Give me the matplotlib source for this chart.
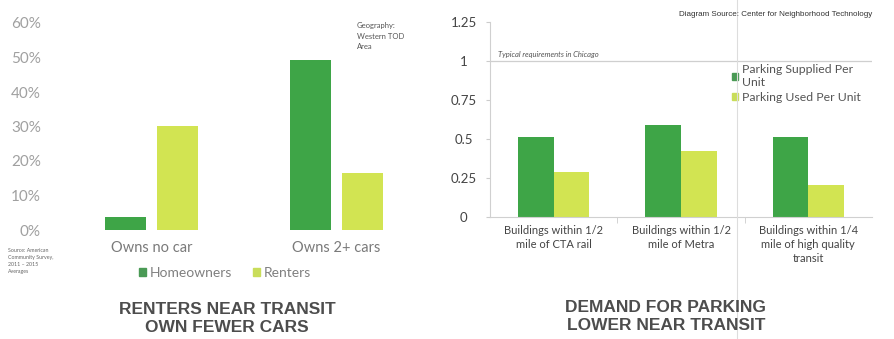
import numpy as np
import matplotlib.pyplot as plt
from matplotlib.lines import Line2D
from matplotlib.patches import Patch

plt.rcParams['font.family'] = ['Lato', 'DejaVu Sans']

# left chart data (share of households, %)
car_cats = ['Owns no car', 'Owns 2+ cars']
homeowners = [3.8, 49.3]
renters = [30.1, 16.5]
pct_ticks = [0, 10, 20, 30, 40, 50, 60]

# right chart data (parking spaces per unit)
bldg_cats = ['Buildings within 1/2\nmile of CTA rail',
             'Buildings within 1/2\nmile of Metra',
             'Buildings within 1/4\nmile of high quality\ntransit']
supplied = [0.51, 0.59, 0.51]
used = [0.29, 0.42, 0.205]
park_ticks = [0, 0.25, 0.5, 0.75, 1, 1.25]
park_labels = ['0', '0.25', '0.5', '0.75', '1', '1.25']

dark = '#3ea547'
light = '#d2e452'

fig = plt.figure(figsize=(8.95, 3.39), dpi=100)
W, H = 895, 339

def fbox(x0, y0, x1, y1):
    # pixel box (top-left origin) -> figure fraction rect
    return [x0 / W, 1 - y1 / H, (x1 - x0) / W, (y1 - y0) / H]

# ---------- left chart ----------
ax1 = fig.add_axes(fbox(52, 23, 420, 230))
x = np.arange(len(car_cats))
bw = 0.22
off = 0.14
ax1.bar(x - off, homeowners, bw, color=dark, label='Homeowners')
ax1.bar(x + off, renters, bw, color=light, label='Renters')
ax1.set_ylim(0, 60)
ax1.set_xlim((52 - 151.5) / 185, (420 - 151.5) / 185)
ax1.set_yticks(pct_ticks)
ax1.set_yticklabels([f'{t}%' for t in pct_ticks])
ax1.set_xticks(x)
ax1.set_xticklabels(car_cats)
ax1.tick_params(axis='y', length=0, pad=8, labelsize=11, labelcolor='#a0a0a0')
ax1.tick_params(axis='x', length=0, pad=8, labelsize=10.5, labelcolor='#7a7a7a')
for s in ax1.spines.values():
    s.set_visible(False)
ax1.legend(handles=[Patch(color='#4a9a55', label='Homeowners'),
                    Patch(color='#c9dd5a', label='Renters')],
           loc='upper center', bbox_to_anchor=(0.47, -0.12), ncol=2,
           frameon=False, fontsize=10, labelcolor='#808080',
           handlelength=0.5, handleheight=0.5, handletextpad=0.3,
           columnspacing=1.5)

fig.text(357 / W, 1 - 22 / H, 'Geography:\nWestern TOD\nArea', fontsize=5.5,
         color='#555555', va='top', ha='left', linespacing=1.6)
fig.text(8 / W, 1 - 248 / H, 'Source: American\nCommunity Survey,\n2011 \u2013 2015\nAverages',
         fontsize=3.8, color='#666666', va='top', ha='left', linespacing=1.5)

# ---------- right chart ----------
ax2 = fig.add_axes(fbox(490, 22, 872, 217))
xc = np.arange(len(bldg_cats))
bw2 = 0.28
ax2.bar(xc - bw2 / 2, supplied, bw2, color=dark)
ax2.bar(xc + bw2 / 2, used, bw2, color=light)
ax2.set_xlim(-0.5, len(bldg_cats) - 0.5)
ax2.set_ylim(0, 1.25)
ax2.set_yticks(park_ticks)
ax2.set_yticklabels(park_labels)
for lab in ax2.get_yticklabels():
    lab.set_ha('center')
ax2.tick_params(axis='y', length=3, color='#cccccc', pad=16, labelsize=9.5,
                labelcolor='#444444')
ax2.set_xticks(xc)
ax2.set_xticklabels(bldg_cats, fontsize=8, color='#444444', linespacing=1.3)
ax2.tick_params(axis='x', length=0, pad=6)
ax2.set_xticks(xc[:-1] + 0.5, minor=True)
ax2.tick_params(axis='x', which='minor', length=4, color='#cccccc')
ax2.axhline(1, color='#cfcfcf', lw=0.9)
for k in ['top', 'right']:
    ax2.spines[k].set_visible(False)
for k in ['left', 'bottom']:
    ax2.spines[k].set_color('#d0d0d0')
ax2.text(0.02, 1.02, 'Typical requirements in Chicago', fontsize=5.5,
         style='italic', color='#555555', va='bottom', ha='left',
         transform=ax2.get_yaxis_transform())
ax2.legend(handles=[Patch(color='#4a9a55', label='Parking Supplied Per\nUnit'),
                    Patch(color='#c9dd5a', label='Parking Used Per Unit')],
           loc='upper left', bbox_to_anchor=(0.605, 0.84), frameon=False,
           fontsize=8.8, labelcolor='#555555', handlelength=0.5,
           handleheight=0.5, handletextpad=0.3, labelspacing=0.3)

fig.text(872 / W, 1 - 15 / H, 'Diagram Source: Center for Neighborhood Technology',
         fontsize=5.8, family='Liberation Sans', color='#333333',
         ha='right', va='center')

# faint scan line through the right panel
fig.add_artist(Line2D([737 / W, 737 / W], [0, 1], color='#dddddd', lw=0.8))

# ---------- panel titles ----------
title_kw = dict(fontsize=12.5, fontweight='bold', color='#4d4d4d',
                ha='center', va='center', linespacing=1.25,
                family=['Liberation Sans', 'DejaVu Sans'])
fig.text(227 / W, 1 - 318 / H, 'RENTERS NEAR TRANSIT\nOWN FEWER CARS', **title_kw)
fig.text(666 / W, 1 - 316 / H, 'DEMAND FOR PARKING\nLOWER NEAR TRANSIT', **title_kw)

fig.savefig('out.png', dpi=100, facecolor='white')
